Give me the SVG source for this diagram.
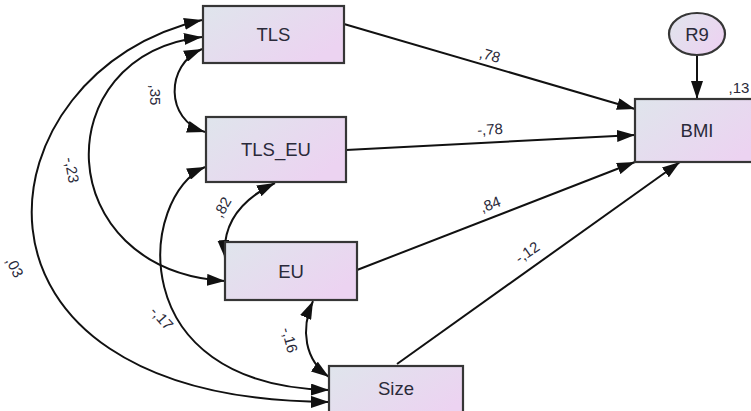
<svg xmlns="http://www.w3.org/2000/svg" width="751" height="411" viewBox="0 0 751 411">
<defs>
<linearGradient id="g" x1="0" y1="0" x2="1" y2="0.6">
<stop offset="0" stop-color="#dfe5ec"/>
<stop offset="1" stop-color="#ecd3f1"/>
</linearGradient>
<marker id="ah" viewBox="0 0 18 12" refX="18" refY="6" markerWidth="18" markerHeight="12" markerUnits="userSpaceOnUse" orient="auto-start-reverse">
<path d="M0,0 L18,6 L0,12 Z" fill="#111"/>
</marker>
</defs>
<style>
.box{fill:url(#g);stroke:#363636;stroke-width:2.2}
.nt{font-family:"Liberation Sans",Arial,sans-serif;font-size:18.5px;fill:#2a2a3a;text-anchor:middle;dominant-baseline:central}
.lb{font-family:"Liberation Sans",Arial,sans-serif;font-size:15px;fill:#2a2a3a;text-anchor:middle;dominant-baseline:central}
.c{fill:none;stroke:#111;stroke-width:2}
.one{marker-end:url(#ah)}
.two{marker-start:url(#ah);marker-end:url(#ah)}
</style>
<g id="connectors">
<path class="c one" d="M344,24 L635,109"/>
<path class="c one" d="M346,150 L635,135"/>
<path class="c one" d="M357,270 L635,162"/>
<path class="c one" d="M397,364 L680,162"/>
<path class="c one" d="M697,55 L697,99"/>
<path class="c two" d="M202,49 C165,65 165,120 205,132"/>
<path class="c two" d="M202,37 C45,55 50,270 225,281"/>
<path class="c two" d="M202,20 C-20,70 -70,400 329,402"/>
<path class="c two" d="M275,183 C240,200 222,225 225,258"/>
<path class="c two" d="M205,167 C140,195 120,385 329,390"/>
<path class="c two" d="M313,301 C300,330 305,360 329,377"/>
</g>
<g id="labels">
<text class="lb" transform="translate(490,55) rotate(16)">,78</text>
<text class="lb" transform="translate(490,129) rotate(-3)">-,78</text>
<text class="lb" transform="translate(490,204) rotate(-21)">,84</text>
<text class="lb" transform="translate(527,252) rotate(-35)">-,12</text>
<text class="lb" transform="translate(155,95) rotate(90)">,35</text>
<text class="lb" transform="translate(72,170) rotate(80)">-,23</text>
<text class="lb" transform="translate(15,267) rotate(62)">,03</text>
<text class="lb" transform="translate(222,207) rotate(-60)">,82</text>
<text class="lb" transform="translate(162,318) rotate(48)">-,17</text>
<text class="lb" transform="translate(290,340) rotate(75)">-,16</text>
<text class="lb" x="739" y="87">,13</text>
</g>
<g id="TLS"><rect class="box" x="203" y="6" width="141" height="57"/><text class="nt" x="273.5" y="34.5">TLS</text></g>
<g id="TLS_EU"><rect class="box" x="206" y="117" width="140" height="65"/><text class="nt" x="276" y="149.5">TLS_EU</text></g>
<g id="EU"><rect class="box" x="225" y="242" width="132" height="58"/><text class="nt" x="291" y="271">EU</text></g>
<g id="Size"><rect class="box" x="329" y="366" width="134" height="56"/><text class="nt" x="396" y="388">Size</text></g>
<g id="BMI"><rect class="box" x="635" y="99" width="130" height="63"/><text class="nt" x="697" y="130.5">BMI</text></g>
<g id="R9"><ellipse class="box" cx="697" cy="34" rx="28" ry="21"/><text class="nt" x="697" y="34">R9</text></g>
</svg>
